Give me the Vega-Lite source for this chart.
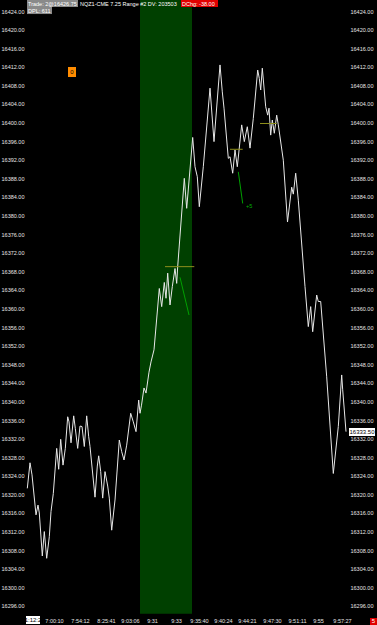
{
  "$schema": "https://vega.github.io/schema/vega-lite/v6.json",
  "width": 377,
  "height": 625,
  "autosize": "none",
  "padding": 0,
  "background": "#000000",
  "config": {
    "view": {"stroke": null},
    "axis": {"domain": false, "ticks": false, "grid": false, "labelColor": "#e6e6e6", "labelFont": "Liberation Sans", "labelFontSize": 5.5, "title": null, "labelFlush": false, "labelOverlap": false}
  },
  "datasets": {
    "price": [
      {"bar": 27.3, "price": 16321.3}, {"bar": 30, "price": 16326.8}, {"bar": 32, "price": 16324.2}, {"bar": 36, "price": 16315.6}, {"bar": 38, "price": 16317.7}, {"bar": 39.3, "price": 16316.0}, {"bar": 42.3, "price": 16306.75}, {"bar": 44.3, "price": 16312.0}, {"bar": 46.7, "price": 16306.25}, {"bar": 49.3, "price": 16310.9}, {"bar": 51, "price": 16316.3}, {"bar": 53.3, "price": 16320.2}, {"bar": 56.7, "price": 16329.9}, {"bar": 58.7, "price": 16325.4}, {"bar": 60.7, "price": 16331.85}, {"bar": 63, "price": 16326.3}, {"bar": 65.3, "price": 16329.9}, {"bar": 67.7, "price": 16336.7}, {"bar": 69, "price": 16335.6}, {"bar": 71, "price": 16331.1}, {"bar": 73.7, "price": 16336.9}, {"bar": 75.3, "price": 16334.2}, {"bar": 77.7, "price": 16329.9}, {"bar": 80, "price": 16334.7}, {"bar": 82, "price": 16334.6}, {"bar": 84.3, "price": 16330.3}, {"bar": 86.7, "price": 16336.9}, {"bar": 88.7, "price": 16332.4}, {"bar": 90, "price": 16330.3}, {"bar": 95, "price": 16319.4}, {"bar": 97.3, "price": 16326.1}, {"bar": 98.7, "price": 16328.3}, {"bar": 100.7, "price": 16324.9}, {"bar": 102.7, "price": 16319.2}, {"bar": 105, "price": 16324.9}, {"bar": 107.7, "price": 16321.8}, {"bar": 109.3, "price": 16319.2}, {"bar": 111.7, "price": 16312.3}, {"bar": 115, "price": 16318.8}, {"bar": 119.3, "price": 16331.7}, {"bar": 121.7, "price": 16329.2}, {"bar": 124, "price": 16327.4}, {"bar": 126.7, "price": 16330.6}, {"bar": 130.7, "price": 16337.45}, {"bar": 133.3, "price": 16335.6}, {"bar": 136, "price": 16333.5}, {"bar": 138.7, "price": 16340.3}, {"bar": 140, "price": 16337.45}, {"bar": 141.5, "price": 16339.2}, {"bar": 144, "price": 16342.9}, {"bar": 146, "price": 16341.8}, {"bar": 149, "price": 16346.3}, {"bar": 151, "price": 16348.5}, {"bar": 154, "price": 16351.1}, {"bar": 159.3, "price": 16364.3}, {"bar": 161.7, "price": 16360.4}, {"bar": 164.3, "price": 16365.6}, {"bar": 166, "price": 16362.2}, {"bar": 167.7, "price": 16367.6}, {"bar": 170, "price": 16360.75}, {"bar": 172.3, "price": 16364.7}, {"bar": 175, "price": 16368.6}, {"bar": 176.7, "price": 16365.4}, {"bar": 177.7, "price": 16369.0}, {"bar": 184.3, "price": 16388.0}, {"bar": 186.7, "price": 16381.55}, {"bar": 192.7, "price": 16396.8}, {"bar": 195, "price": 16390.5}, {"bar": 197.3, "price": 16388.35}, {"bar": 199.3, "price": 16381.9}, {"bar": 203.3, "price": 16390.5}, {"bar": 210, "price": 16407.4}, {"bar": 214, "price": 16395.9}, {"bar": 220, "price": 16412.4}, {"bar": 222.3, "price": 16406.6}, {"bar": 224, "price": 16403.1}, {"bar": 228.3, "price": 16392.3}, {"bar": 230, "price": 16392.65}, {"bar": 232.7, "price": 16389.1}, {"bar": 235, "price": 16394.1}, {"bar": 237.3, "price": 16390.5}, {"bar": 241.7, "price": 16399.5}, {"bar": 244.3, "price": 16395.9}, {"bar": 247.3, "price": 16399.1}, {"bar": 250, "price": 16394.5}, {"bar": 253.3, "price": 16400.9}, {"bar": 257.7, "price": 16411.3}, {"bar": 259.3, "price": 16409.5}, {"bar": 260.7, "price": 16407.0}, {"bar": 262.3, "price": 16411.7}, {"bar": 265.7, "price": 16403.4}, {"bar": 267.7, "price": 16401.6}, {"bar": 269, "price": 16403.1}, {"bar": 270.7, "price": 16397.3}, {"bar": 272.3, "price": 16400.55}, {"bar": 274.3, "price": 16397.7}, {"bar": 276.7, "price": 16401.6}, {"bar": 278.3, "price": 16399.5}, {"bar": 283.3, "price": 16391.9}, {"bar": 287.5, "price": 16378.6}, {"bar": 291.7, "price": 16386.1}, {"bar": 293.3, "price": 16384.6}, {"bar": 295.7, "price": 16389.1}, {"bar": 298.3, "price": 16383.3}, {"bar": 305, "price": 16364.7}, {"bar": 308.3, "price": 16356.1}, {"bar": 310.7, "price": 16360.4}, {"bar": 312.7, "price": 16355.0}, {"bar": 316.7, "price": 16362.9}, {"bar": 318.3, "price": 16361.5}, {"bar": 320.7, "price": 16361.5}, {"bar": 326.7, "price": 16345.3}, {"bar": 333.3, "price": 16324.5}, {"bar": 338.3, "price": 16334.6}, {"bar": 341.7, "price": 16345.7}, {"bar": 342.7, "price": 16342.5}, {"bar": 346, "price": 16333.5}
    ],
    "band": [{"bar": 140, "bar2": 192, "price": 16294.3, "price2": 16426.37}],
    "levels": [
      {"bar": 165, "bar2": 194.3, "price": 16369.0},
      {"bar": 230, "bar2": 242.7, "price": 16394.25},
      {"bar": 260, "bar2": 276.7, "price": 16399.8}
    ],
    "moves": [
      {"bar": 180, "bar2": 189, "price": 16366.7, "price2": 16358.6},
      {"bar": 238.3, "bar2": 242.7, "price": 16389.4, "price2": 16382.6}
    ],
    "boxes": [
      {"kind": "hdr", "bar": 27, "bar2": 78, "price": 16426.37, "price2": 16424.86},
      {"kind": "hdr", "bar": 27, "bar2": 52, "price": 16424.86, "price2": 16423.35},
      {"kind": "dchg", "bar": 181, "bar2": 218, "price": 16426.37, "price2": 16424.86},
      {"kind": "zero", "bar": 68, "bar2": 76, "price": 16411.95, "price2": 16409.8},
      {"kind": "last", "bar": 349, "bar2": 375, "price": 16334.28, "price2": 16332.56},
      {"kind": "cursor", "bar": 26, "bar2": 40, "price": 16293.84, "price2": 16292.12},
      {"kind": "five", "bar": 370, "bar2": 377, "price": 16293.41, "price2": 16291.9}
    ],
    "textsLeft": [
      {"bar": 28, "price": 16425.6, "text": "Trade: 2@16426.75", "tone": "light"},
      {"bar": 28, "price": 16424.1, "text": "DPL: 611", "tone": "light"},
      {"bar": 80, "price": 16425.6, "text": "NQZ1-CME  7.25 Range  #2 DV: 203503", "tone": "light"},
      {"bar": 182, "price": 16425.6, "text": "DChg: -38.00", "tone": "light"},
      {"bar": 246, "price": 16382.1, "text": "+5", "tone": "green"}
    ],
    "textsCenter": [
      {"bar": 72, "price": 16410.9, "text": "0", "tone": "dark"},
      {"bar": 362, "price": 16333.42, "text": "16333.50", "tone": "dark"},
      {"bar": 33, "price": 16292.98, "text": "1:12:2", "tone": "dark"},
      {"bar": 373.5, "price": 16292.7, "text": "5", "tone": "light"}
    ]
  },
  "resolve": {"axis": {"y": "independent"}},
  "layer": [
    {
      "data": {"name": "band"},
      "mark": {"type": "rect", "color": "#004000"},
      "encoding": {
        "x": {"field": "bar", "type": "quantitative", "scale": {"domain": [0, 377], "nice": false, "zero": false},
              "axis": {"orient": "bottom", "offset": -8, "labelPadding": 1, "labelOverlap": false, "labelFlush": false, "tickCount": 100, "values": [54, 80, 106, 130, 152, 176, 199, 223, 247, 272, 297, 318, 342],
                       "labelExpr": "{'54':'7:00:10','80':'7:54:12','106':'8:25:41','130':'9:03:06','152':'9:31','176':'9:33','199':'9:35:40','223':'9:40:24','247':'9:44:21','272':'9:47:30','297':'9:51:11','318':'9:55','342':'9:57:27'}[datum.value]"}},
        "x2": {"field": "bar2"},
        "y": {"field": "price", "type": "quantitative", "scale": {"domain": [16291.9, 16426.37], "nice": false, "zero": false},
              "axis": {"orient": "right", "offset": -28, "labelPadding": 1, "labelAlign": "left", "labelOverlap": false, "tickCount": 100, "values": [16296,16300,16304,16308,16312,16316,16320,16324,16328,16332,16336,16340,16344,16348,16352,16356,16360,16364,16368,16372,16376,16380,16384,16388,16392,16396,16400,16404,16408,16412,16416,16420,16424], "format": ".2f"}},
        "y2": {"field": "price2"}
      }
    },
    {
      "data": {"name": "price"},
      "mark": {"type": "line", "color": "#e8e8e8", "strokeWidth": 1},
      "encoding": {
        "x": {"field": "bar", "type": "quantitative", "scale": {"domain": [0, 377], "nice": false, "zero": false},
              "axis": {"orient": "bottom", "offset": -8, "labelPadding": 1, "labelOverlap": false, "labelFlush": false, "tickCount": 100, "values": [54, 80, 106, 130, 152, 176, 199, 223, 247, 272, 297, 318, 342],
                       "labelExpr": "{'54':'7:00:10','80':'7:54:12','106':'8:25:41','130':'9:03:06','152':'9:31','176':'9:33','199':'9:35:40','223':'9:40:24','247':'9:44:21','272':'9:47:30','297':'9:51:11','318':'9:55','342':'9:57:27'}[datum.value]"}},
        "y": {"field": "price", "type": "quantitative", "scale": {"domain": [16291.9, 16426.37], "nice": false, "zero": false},
              "axis": {"orient": "left", "offset": -26, "labelPadding": 2, "labelOverlap": false, "tickCount": 100, "values": [16296,16300,16304,16308,16312,16316,16320,16324,16328,16332,16336,16340,16344,16348,16352,16356,16360,16364,16368,16372,16376,16380,16384,16388,16392,16396,16400,16404,16408,16412,16416,16420,16424], "format": ".2f"}}
      }
    },
    {
      "data": {"name": "levels"},
      "mark": {"type": "rule", "color": "#8f8f1c", "strokeWidth": 1},
      "encoding": {
        "x": {"field": "bar", "type": "quantitative"},
        "x2": {"field": "bar2"},
        "y": {"field": "price", "type": "quantitative", "axis": null}
      }
    },
    {
      "data": {"name": "moves"},
      "mark": {"type": "rule", "color": "#00a000", "strokeWidth": 1},
      "encoding": {
        "x": {"field": "bar", "type": "quantitative"},
        "x2": {"field": "bar2"},
        "y": {"field": "price", "type": "quantitative", "axis": null},
        "y2": {"field": "price2"}
      }
    },
    {
      "data": {"name": "boxes"},
      "mark": {"type": "rect"},
      "encoding": {
        "x": {"field": "bar", "type": "quantitative"},
        "x2": {"field": "bar2"},
        "y": {"field": "price", "type": "quantitative", "axis": null},
        "y2": {"field": "price2"},
        "fill": {"field": "kind", "type": "nominal", "legend": null,
                  "scale": {"domain": ["hdr", "dchg", "zero", "last", "cursor", "five"], "range": ["#8a8a8a", "#e00000", "#ff8c00", "#ffffff", "#ffffff", "#e00000"]}}
      }
    },
    {
      "data": {"name": "textsLeft"},
      "mark": {"type": "text", "align": "left", "baseline": "middle", "font": "Liberation Sans", "fontSize": 5.5},
      "encoding": {
        "x": {"field": "bar", "type": "quantitative"},
        "y": {"field": "price", "type": "quantitative", "axis": null},
        "text": {"field": "text"},
        "color": {"field": "tone", "type": "nominal", "legend": null,
                  "scale": {"domain": ["light", "dark", "green"], "range": ["#ffffff", "#000000", "#00b000"]}}
      }
    },
    {
      "data": {"name": "textsCenter"},
      "mark": {"type": "text", "align": "center", "baseline": "middle", "font": "Liberation Sans", "fontSize": 6},
      "encoding": {
        "x": {"field": "bar", "type": "quantitative"},
        "y": {"field": "price", "type": "quantitative", "axis": null},
        "text": {"field": "text"},
        "color": {"field": "tone", "type": "nominal", "legend": null}
      }
    }
  ]
}
